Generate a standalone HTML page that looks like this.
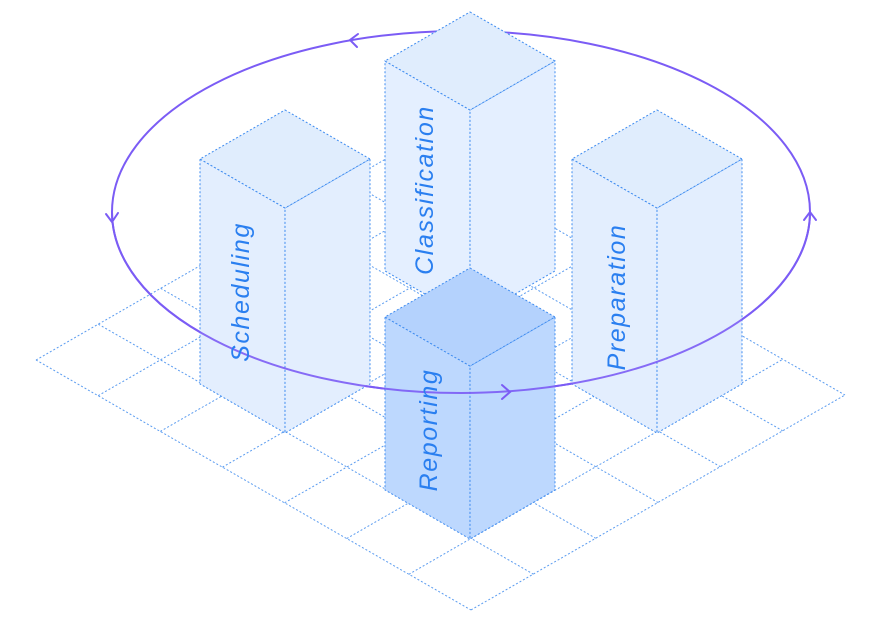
<!DOCTYPE html>
<html><head><meta charset="utf-8"><style>
html,body{margin:0;padding:0;background:#fff;width:880px;height:623px;overflow:hidden}
svg{display:block}
text{font-family:"Liberation Sans",sans-serif;font-style:italic;font-size:25px;letter-spacing:1.6px;fill:#2a7ff0}
</style></head><body>
<svg id="s" width="880" height="623" viewBox="0 0 880 623" xmlns="http://www.w3.org/2000/svg">
<g id="grid" stroke="#5b9cf0" stroke-width="1" stroke-dasharray="2 2" fill="none"></g>
<ellipse cx="461" cy="212" rx="349" ry="181" fill="none" stroke="#7b5cf5" stroke-width="2"/>
<g id="boxes"></g>
<path d="M112,212 A349,181 0 0 0 810,212" fill="none" stroke="#7b5cf5" stroke-width="2" opacity="0.9"/>
<g fill="none" stroke="#7b5cf5" stroke-width="2" stroke-linecap="round">
<path d="M358,34 L350,40 L357,47"/>
<path d="M106,214 L112,222 L118,213"/>
<path d="M502,385 L510,392 L502,399"/>
<path d="M804,220 L810,212 L816,220"/>
</g>
<text transform="translate(249,292) rotate(-90)" text-anchor="middle">Scheduling</text>
<text transform="translate(433,190) rotate(-90)" text-anchor="middle">Classification</text>
<text transform="translate(437,430) rotate(-90)" text-anchor="middle">Reporting</text>
<text transform="translate(625,297) rotate(-90)" text-anchor="middle">Preparation</text>
</svg>
<script>
var NS="http://www.w3.org/2000/svg";
var g=document.getElementById("grid");
var L=[36,360],u=[62.14,35.71],v=[62.33,-35.83];
function P(i,j){return [L[0]+i*u[0]+j*v[0],L[1]+i*u[1]+j*v[1]];}
function line(a,b){var l=document.createElementNS(NS,"line");l.setAttribute("x1",a[0]);l.setAttribute("y1",a[1]);l.setAttribute("x2",b[0]);l.setAttribute("y2",b[1]);g.appendChild(l);}
for(var i=0;i<=7;i++)line(P(i,0),P(i,6));
for(var j=0;j<=6;j++)line(P(0,j),P(7,j));
var bx=document.getElementById("boxes");
function box(cx,top,h,fl,ft){
 var w=85,d=49;
 var s='<g stroke="#3f8cf0" stroke-width="1" stroke-dasharray="2 2">';
 s+='<polygon points="'+(cx-w)+','+(top+d)+' '+cx+','+(top+2*d)+' '+cx+','+(top+2*d+h)+' '+(cx-w)+','+(top+d+h)+'" fill="'+fl+'"/>';
 s+='<polygon points="'+(cx+w)+','+(top+d)+' '+cx+','+(top+2*d)+' '+cx+','+(top+2*d+h)+' '+(cx+w)+','+(top+d+h)+'" fill="'+fl+'"/>';
 s+='<polygon points="'+cx+','+top+' '+(cx+w)+','+(top+d)+' '+cx+','+(top+2*d)+' '+(cx-w)+','+(top+d)+'" fill="'+ft+'"/>';
 s+='</g>';
 return s;
}
bx.innerHTML=box(470,12,210,"#e4efff","#e0edfd")+box(285,110,225,"#e3eefe","#e0edfd")+box(657,110,225,"#e3eefe","#e0edfd")+box(470,268,173,"#bdd8fe","#b4d2fd");
</script>
</body></html>
